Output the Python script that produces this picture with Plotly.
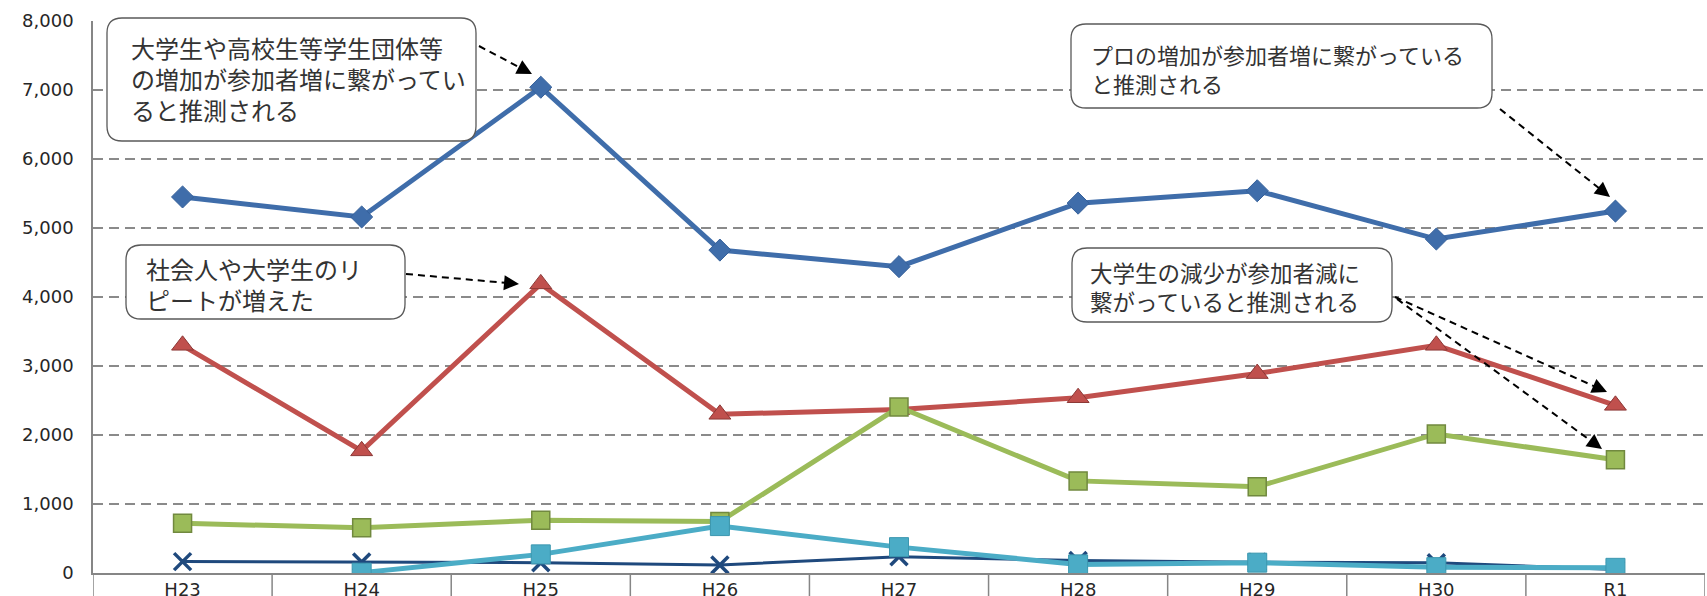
import plotly.graph_objects as go

# data
years = ['H23', 'H24', 'H25', 'H26', 'H27', 'H28', 'H29', 'H30', 'R1']
series_blue = [5450, 5160, 7040, 4680, 4440, 5360, 5540, 4840, 5245]
series_red = [3300, 1770, 4190, 2300, 2370, 2540, 2890, 3300, 2430]
series_green = [720, 655, 765, 745, 2405, 1335, 1250, 2015, 1640]
series_navy = [165, 160, 150, 115, 235, 180, 155, 150, 50]
series_cyan = [None, 5, 270, 680, 375, 125, 150, 85, 75]

note_1 = '大学生や高校生等学生団体等<br>の増加が参加者増に繋がってい<br>ると推測される'
note_2 = '社会人や大学生のリ<br>ピートが増えた'
note_3 = 'プロの増加が参加者増に繋がっている<br>と推測される'
note_4 = '大学生の減少が参加者減に<br>繋がっていると推測される'

W, H = 1707, 596
L, R, T, B = 93, 2, 21, 23
PW, PH = W - L - R, H - T - B

JP = 'Noto Sans CJK JP'
NUM = 'DejaVu Sans'


def paper(x, y):
    '''pixel position -> paper coords'''
    return (x - L) / PW, (H - B - y) / PH


def rounded_box(x0, y0, x1, y1, r=15):
    seq = [
        ('M', (x0 + r, y0)),
        ('L', (x1 - r, y0)),
        ('Q', (x1, y0), (x1, y0 + r)),
        ('L', (x1, y1 - r)),
        ('Q', (x1, y1), (x1 - r, y1)),
        ('L', (x0 + r, y1)),
        ('Q', (x0, y1), (x0, y1 - r)),
        ('L', (x0, y0 + r)),
        ('Q', (x0, y0), (x0 + r, y0)),
    ]
    parts = []
    for item in seq:
        coords = ' '.join('%.5f,%.5f' % paper(*p) for p in item[1:])
        parts.append(item[0] + ' ' + coords)
    return dict(type='path', xref='paper', yref='paper', layer='above',
                path=' '.join(parts) + ' Z', fillcolor='white',
                line=dict(color='#595959', width=1.3))


fig = go.Figure()
fig.add_trace(go.Scatter(
    x=years, y=series_blue, mode='lines+markers', name='系列1',
    line=dict(color='#3F6DAA', width=5),
    marker=dict(symbol='diamond', size=17, color='#3F6DAA',
                line=dict(color='#35609A', width=1)),
))
fig.add_trace(go.Scatter(
    x=years, y=series_red, mode='lines+markers', name='系列2',
    line=dict(color='#C0504D', width=5),
    marker=dict(symbol='triangle-up', size=19, color='#C0504D',
                line=dict(color='#8C3836', width=1)),
))
fig.add_trace(go.Scatter(
    x=years, y=series_green, mode='lines+markers', name='系列3',
    line=dict(color='#9BBB59', width=5),
    marker=dict(symbol='square', size=18, color='#9BBB59',
                line=dict(color='#71893F', width=1.5)),
))
fig.add_trace(go.Scatter(
    x=years, y=series_navy, mode='lines+markers', name='系列4',
    line=dict(color='#1F497D', width=3),
    marker=dict(symbol='x-thin', size=17, color='#1F497D',
                line=dict(color='#1F497D', width=3.5)),
))
fig.add_trace(go.Scatter(
    x=years, y=series_cyan, mode='lines+markers', name='系列5',
    line=dict(color='#4BACC6', width=5),
    marker=dict(symbol='square', size=19, color='#4BACC6',
                line=dict(color='#3C97AF', width=1)),
))

shapes = []
# category dividers below the axis
for i in range(len(years) + 1):
    shapes.append(dict(type='line', xref='x', yref='paper',
                       x0=i - 0.5, x1=i - 0.5, y0=0, y1=-0.08,
                       line=dict(color='#868686', width=1.5)))

boxes = [(107, 18, 476, 141), (126, 245, 405, 319),
         (1071, 24, 1492, 108), (1072, 248, 1392, 322)]
for b in boxes:
    shapes.append(rounded_box(*b))

arrows = [((479, 46), (532, 74)),
          ((406, 274), (519, 284)),
          ((1500, 109), (1610, 197)),
          ((1395, 297), (1607, 392)),
          ((1397, 299), (1602, 449))]

annotations = []
for (sx, sy), (ex, ey) in arrows:
    dx, dy = ex - sx, ey - sy
    n = (dx ** 2 + dy ** 2) ** 0.5
    ux, uy = dx / n, dy / n
    bx, by = ex - ux * 9, ey - uy * 9
    x0, y0 = paper(sx, sy)
    x1, y1 = paper(bx, by)
    shapes.append(dict(type='line', xref='paper', yref='paper', layer='above',
                       x0=x0, y0=y0, x1=x1, y1=y1,
                       line=dict(color='black', width=2, dash='7px,5px')))
    tx, ty = paper(ex, ey)
    annotations.append(dict(
        x=tx, y=ty, xref='paper', yref='paper', text='', showarrow=True,
        ax=-ux * 12, ay=-uy * 12, axref='pixel', ayref='pixel',
        arrowhead=2, arrowsize=1.5, arrowwidth=2, arrowcolor='black',
    ))

notes = [(note_1, 129, 78, 24), (note_2, 144, 284, 24),
         (note_3, 1089, 68, 22), (note_4, 1088, 286, 22.5)]
for text, x, y, size in notes:
    px_, py_ = paper(x, y)
    annotations.append(dict(
        x=px_, y=py_, xref='paper', yref='paper', text=text,
        showarrow=False, xanchor='left', yanchor='middle', align='left',
        font=dict(family=JP, size=size, color='#333333'),
    ))

fig.update_layout(
    width=W, height=H,
    margin=dict(l=L, r=R, t=T, b=B),
    paper_bgcolor='white', plot_bgcolor='white',
    showlegend=False,
    shapes=shapes,
    annotations=annotations,
    xaxis=dict(
        type='category', range=[-0.5, 8.5], automargin=False,
        showgrid=False, showline=True, linecolor='#868686', linewidth=1.5,
        ticks='', tickfont=dict(family=NUM, size=18, color='#262626'),
    ),
    yaxis=dict(
        range=[0, 8000], dtick=1000, tickformat=',d', automargin=False,
        showgrid=True, gridcolor='#8A8A8A', gridwidth=2, griddash='10px,6px',
        zeroline=False, showline=True, linecolor='#868686', linewidth=1.5,
        ticks='', ticklabelstandoff=14,
        tickfont=dict(family=NUM, size=18, color='#262626'),
    ),
)

# the page has a default 8px body margin; drop it so the figure fills the window
fig.write_html('out.html', config={'displayModeBar': False},
               post_script="document.body.style.margin='0';")
